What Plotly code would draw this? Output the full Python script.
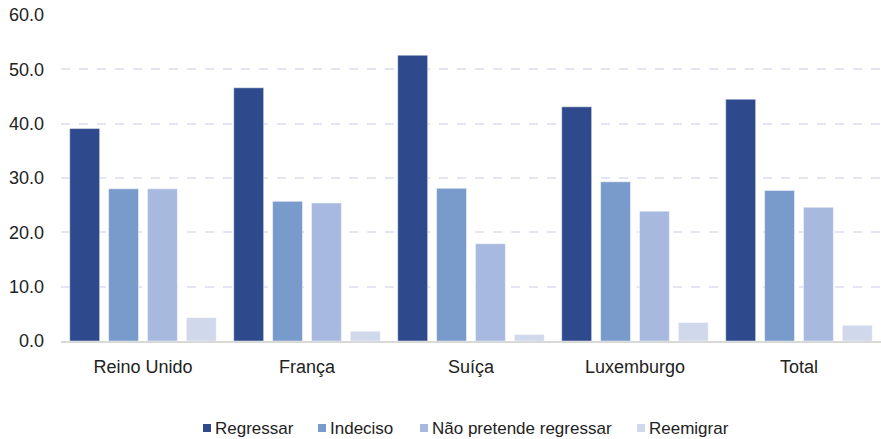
import plotly.graph_objects as go

categories = ["Reino Unido", "França", "Suíça", "Luxemburgo", "Total"]
regressar = [39.1, 46.6, 52.6, 43.1, 44.5]
indeciso = [28.0, 25.7, 28.1, 29.3, 27.7]
nao_pretende = [28.0, 25.4, 17.9, 23.9, 24.6]
reemigrar = [4.3, 1.8, 1.2, 3.4, 2.9]

series = [
    ("Regressar", regressar, "#2E4A8C"),
    ("Indeciso", indeciso, "#789BCC"),
    ("Não pretende regressar", nao_pretende, "#A7B9DF"),
    ("Reemigrar", reemigrar, "#D0D8EB"),
]

W, H = 881, 439
ML, MR, MT, MB = 61, 0, 15, 98
PW, PH = W - ML - MR, H - MT - MB

fig = go.Figure()
for name, vals, color in series:
    fig.add_trace(go.Bar(
        x=categories, y=vals, name=name,
        marker=dict(color=color, line=dict(color="rgba(255,255,255,0.6)", width=0.8)),
        showlegend=False,
    ))

# Compact legend below the plot: small square swatch followed closely by its label
legend_left_px = [203, 318, 420, 637]
legend_y_px = 428
shapes, annotations = [], []
for (name, _, color), lx in zip(series, legend_left_px):
    x0 = (lx - ML) / PW
    x1 = (lx + 8 - ML) / PW
    yc = (MT + PH - legend_y_px) / PH
    shapes.append(dict(
        type="rect", xref="paper", yref="paper",
        x0=x0, x1=x1, y0=yc - 4 / PH, y1=yc + 4 / PH,
        fillcolor=color, line=dict(width=0),
    ))
    annotations.append(dict(
        xref="paper", yref="paper", x=(lx + 11 - ML) / PW, y=yc,
        xanchor="left", yanchor="middle", text=name, showarrow=False,
        font=dict(size=17, color="#222222"), borderpad=0,
    ))

fig.update_layout(
    width=W, height=H,
    margin=dict(l=ML, r=MR, t=MT, b=MB),
    paper_bgcolor="white", plot_bgcolor="white",
    barmode="group", bargap=0.052, bargroupgap=0.23,
    font=dict(family="Liberation Sans, Arial, sans-serif", size=18, color="#222222"),
    showlegend=False,
    shapes=shapes,
    annotations=annotations,
    xaxis=dict(
        showgrid=False, showline=True, linecolor="#D9D9D9", linewidth=2,
        ticks="", tickfont=dict(size=18), ticklabelstandoff=8,
    ),
    yaxis=dict(
        range=[0, 60], dtick=10, tickformat=".1f",
        showgrid=True, gridcolor="#E3E6F2", griddash="dash", gridwidth=1.5,
        zeroline=False, showline=False, ticks="", tickfont=dict(size=18),
        ticklabelstandoff=16,
    ),
)

fig.write_html("out.html")
